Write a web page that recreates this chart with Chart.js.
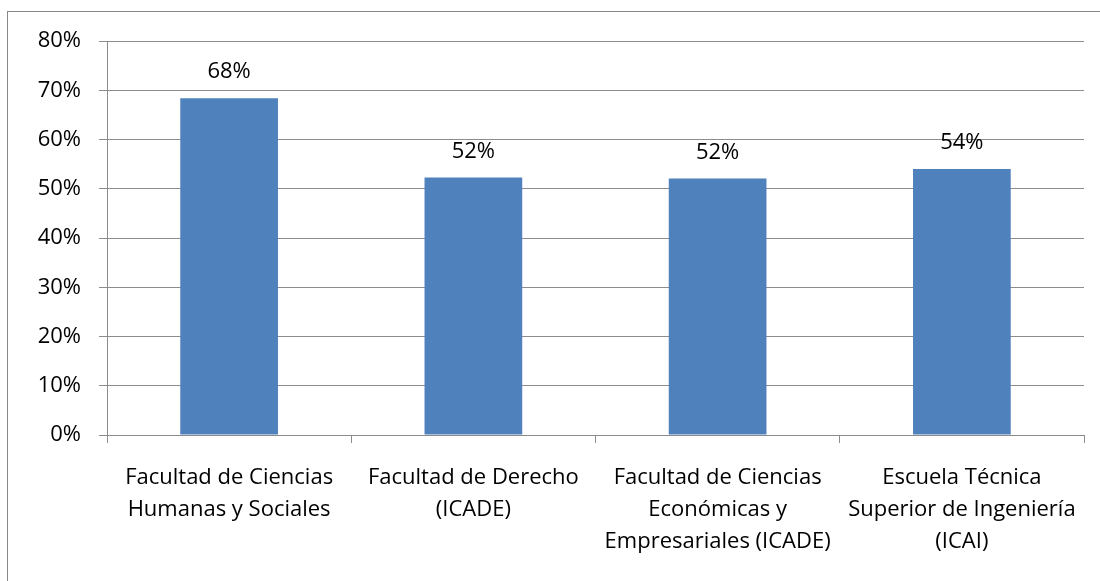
<!DOCTYPE html>
<html>
<head>
<meta charset="utf-8">
<script src="https://cdn.jsdelivr.net/npm/chart.js@4"></script>
<style>
  body { margin: 0; background: #fff; overflow: hidden; }
  #frame { position: absolute; left: 7px; top: 11px; width: 1200px; height: 700px; border: 1px solid #888; }
  #wrap { position: absolute; left: 0; top: 0; width: 1100px; height: 581px; }
</style>
</head>
<body>
<div id="frame"></div>
<div id="wrap"><canvas id="chart" width="1100" height="581"></canvas></div>
<script>
'use strict';

// categorías (facultades) y porcentajes
const categories = [
    ['Facultad de Ciencias', 'Humanas y Sociales'],
    ['Facultad de Derecho', '(ICADE)'],
    ['Facultad de Ciencias', 'Económicas y', 'Empresariales (ICADE)'],
    ['Escuela Técnica', 'Superior de Ingeniería', '(ICAI)']
];
const values = [68.4, 52.3, 52.1, 54.0];
const valueLabels = ['68%', '52%', '52%', '54%'];
const yMax = 80, yStep = 10;

const fontFamily = '"Open Sans", "Liberation Sans", sans-serif';
const fontSize = 22;
const gridColor = '#8c8c8c';

// etiquetas encima de cada barra
const barLabels = {
    id: 'barLabels',
    afterDatasetsDraw(chart) {
        let ctx = chart.ctx,
            meta = chart.getDatasetMeta(0);
        ctx.save();
        ctx.font = fontSize + 'px ' + fontFamily;
        ctx.fillStyle = '#000';
        ctx.textAlign = 'center';
        ctx.textBaseline = 'middle';
        meta.data.forEach((bar, i) => {
            ctx.fillText(valueLabels[i], bar.x, bar.y - 26);
        });
        ctx.restore();
    }
};

new Chart(document.getElementById('chart'), {
    type: 'bar',
    data: {
        labels: categories,
        datasets: [{
            data: values,
            backgroundColor: '#4f81bd',
            borderWidth: 0,
            categoryPercentage: 1,
            barPercentage: 0.4
        }]
    },
    options: {
        responsive: false,
        animation: false,
        layout: { padding: { top: 41, right: 16, left: 0, bottom: 0 } },
        plugins: { legend: { display: false }, tooltip: { enabled: false } },
        scales: {
            x: {
                offset: true,
                afterFit(scale) { scale.height = 146; },
                grid: {
                    offset: true,
                    drawOnChartArea: false,
                    drawTicks: true,
                    tickLength: 8,
                    color: gridColor
                },
                border: { color: gridColor, width: 1 },
                ticks: {
                    color: '#000',
                    padding: 19,
                    maxRotation: 0,
                    autoSkip: false,
                    font: { family: fontFamily, size: fontSize, lineHeight: 32 / fontSize }
                }
            },
            y: {
                min: 0,
                max: yMax,
                afterFit(scale) { scale.width = 107; },
                grid: { color: gridColor, tickLength: 8 },
                border: { color: gridColor, width: 1 },
                ticks: {
                    stepSize: yStep,
                    color: '#000',
                    padding: 18,
                    font: { family: fontFamily, size: fontSize },
                    callback: v => v + '%'
                }
            }
        }
    },
    plugins: [barLabels]
});
</script>
</body>
</html>
